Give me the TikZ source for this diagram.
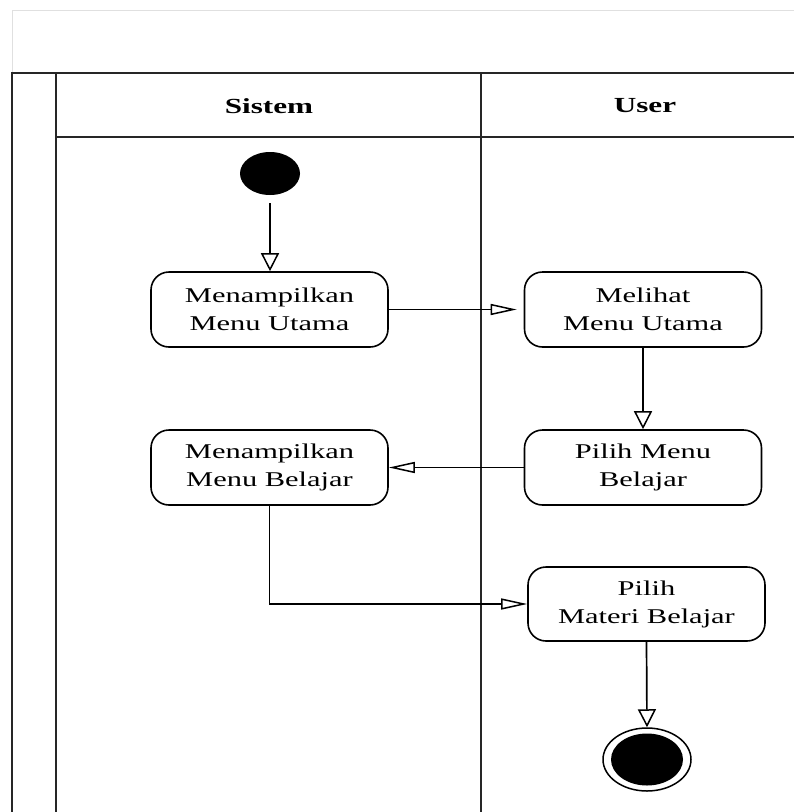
\documentclass[tikz,border=0pt]{standalone}
\usepackage{fontspec}
\setmainfont{Liberation Serif}[FakeStretch=1.45]
\usetikzlibrary{arrows.meta,shapes.geometric}
\tikzset{
  lane/.style={line width=2pt, draw=black!85},
  frame/.style={line width=1pt, draw=black!12},
  actbox/.style={draw, line width=1.6pt, rounded corners=18pt, minimum width=237pt, minimum height=75pt, align=center, inner sep=0pt, font=\fontsize{21}{28}\selectfont},
  lanetitle/.style={font=\fontsize{21.5}{25}\selectfont\bfseries, inner sep=0pt},
  flowv/.style={line width=1.7pt, -{Triangle[open, length=18pt, width=18pt, line width=1.5pt]}},
  flowh/.style={line width=1.7pt, -{Triangle[open, length=26pt, width=11pt, line width=1.5pt]}},
}
\begin{document}
\begin{tikzpicture}[x=1pt, y=-1pt]
\useasboundingbox (0,0) rectangle (794,812);
% faint frame
\draw[frame] (12,73) -- (12,10.5) -- (794,10.5);
% swimlanes
\draw[lane] (12,812) -- (12,73) -- (794,73);
\draw[lane] (56,812) -- (56,73);
\draw[lane] (481,812) -- (481,73);
\draw[lane] (56,137) -- (794,137);
\node[lanetitle] (tsis) at (269,106) {Sistem};
\node[lanetitle] (tusr) at (645,106) {User};
% nodes
\node[ellipse, fill=black, minimum width=60pt, minimum height=43pt, inner sep=0pt] (start) at (270,173.5) {};
\node[actbox] (mu) at (269.5,309.5) {Menampilkan\\Menu Utama};
\node[actbox] (mel) at (643,309.5) {Melihat\\Menu Utama};
\node[actbox] (pmb) at (643,467.5) {Pilih Menu\\Belajar};
\node[actbox] (mmb) at (269.5,467.5) {Menampilkan\\Menu Belajar};
\node[actbox, minimum height=74pt] (pmat) at (646.5,604) {Pilih\\Materi Belajar};
\node[ellipse, draw, line width=1.5pt, minimum width=88pt, minimum height=63pt, inner sep=0pt] (end) at (647,759.5) {};
\node[ellipse, fill=black, minimum width=72pt, minimum height=52pt, inner sep=0pt] (endin) at (end.center) {};
% flows
\draw[flowv, shorten <=8pt] (start.south) -- (mu.north -| start.south);
\draw[flowh, shorten >=7pt] (mu.east) -- (mel.west);
\draw[flowv] (mel.south) -- (pmb.north);
\draw[flowh] (pmb.west) -- (mmb.east);
\draw[flowh] (mmb.south) |- (pmat.west);
\draw[flowv] (pmat.south) -- (end.north);
\end{tikzpicture}
\end{document}
